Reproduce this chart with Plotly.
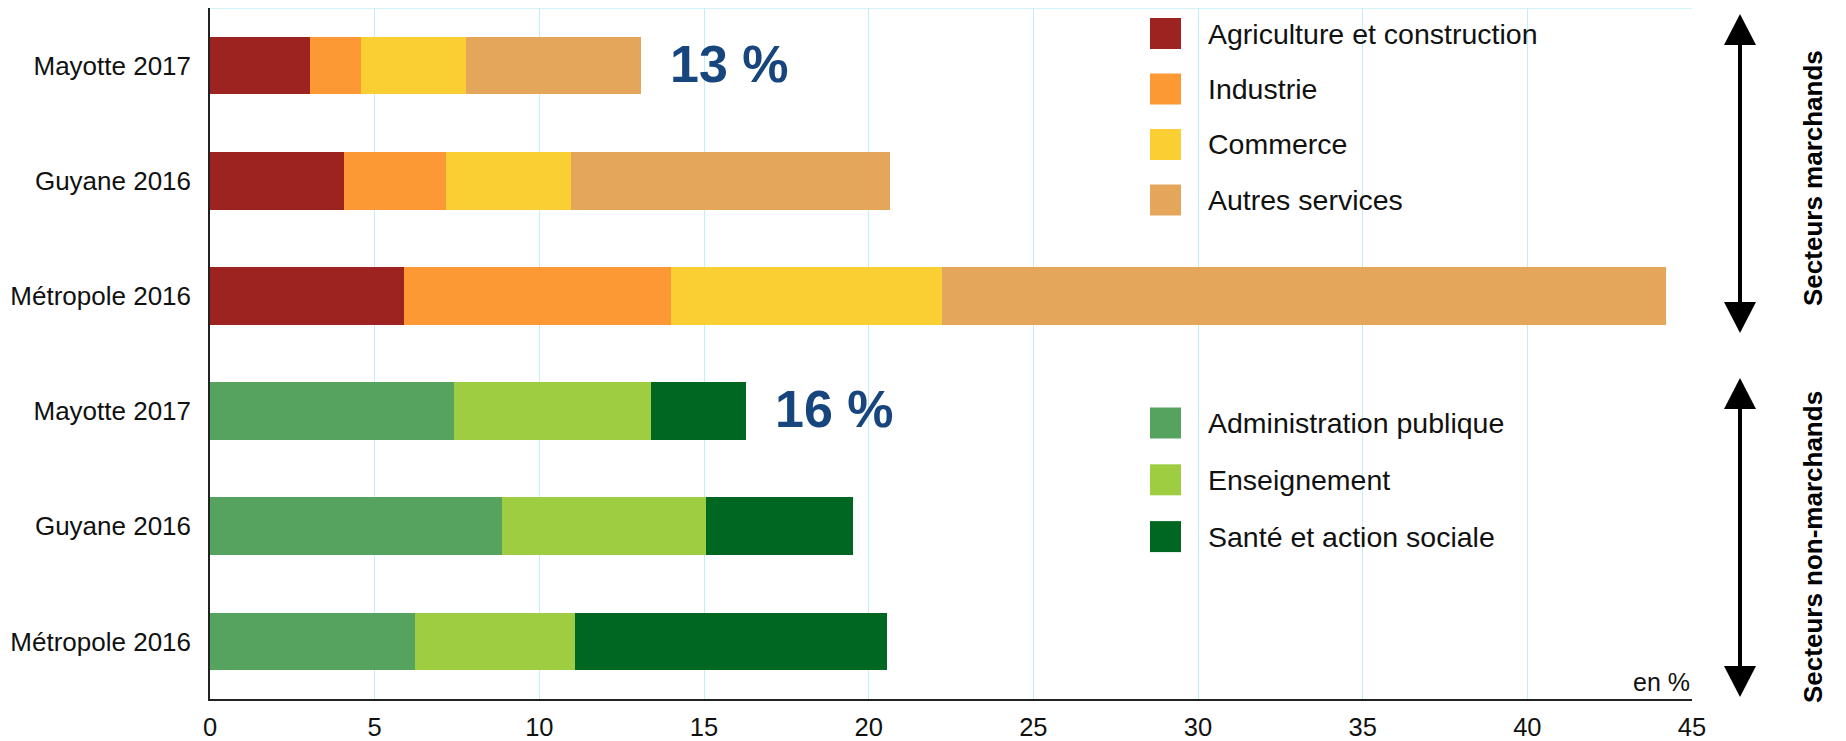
import plotly.graph_objects as go

# ---------------- data ----------------
row_labels = ["Mayotte 2017", "Guyane 2016", "Métropole 2016",
              "Mayotte 2017", "Guyane 2016", "Métropole 2016"]

market_sectors = ["Agriculture et construction", "Industrie", "Commerce", "Autres services"]
market_colors = ["#9c231f", "#fd9934", "#f9cf33", "#e3a65a"]
# rows: Mayotte 2017, Guyane 2016, Métropole 2016
agri = [3.03, 4.06, 5.89]
industrie = [1.55, 3.10, 8.11]
commerce = [3.19, 3.80, 8.24]
autres = [5.32, 9.70, 21.98]

nonmarket_sectors = ["Administration publique", "Enseignement", "Santé et action sociale"]
nonmarket_colors = ["#56a35f", "#9ecd42", "#006723"]
admin = [7.41, 8.87, 6.22]
enseignement = [5.98, 6.19, 4.87]
sante = [2.89, 4.46, 9.46]

total_labels = ["13 %", "16 %"]
group_labels = ["Secteurs marchands", "Secteurs non-marchands"]
x_ticks = [0, 5, 10, 15, 20, 25, 30, 35, 40, 45]
unit_label = "en %"

# ---------------- layout constants ----------------
OFF = 8  # page body margin offset
W, H = 1846 - OFF, 741 - OFF
ML, MR, MT, MB = 210 - OFF, 154, 0, 42
PW, PH = W - ML - MR, H - MT - MB
FONT = "Liberation Sans, Arial, sans-serif"


def px_x(px):
    # px: page x coordinate in reference
    return (px - OFF - ML) / PW


def px_y(py):
    return (H - MB - (py - OFF)) / PH


y_market = [5, 4, 3]
y_nonmarket = [2, 1, 0]

fig = go.Figure()
for name, vals, col in zip(market_sectors, [agri, industrie, commerce, autres], market_colors):
    fig.add_trace(go.Bar(y=y_market, x=vals, name=name, orientation="h",
                         marker=dict(color=col, line=dict(width=0)), width=0.5,
                         showlegend=False))
for name, vals, col in zip(nonmarket_sectors, [admin, enseignement, sante], nonmarket_colors):
    fig.add_trace(go.Bar(y=y_nonmarket, x=vals, name=name, orientation="h",
                         marker=dict(color=col, line=dict(width=0)), width=0.5,
                         showlegend=False))

shapes = []
annotations = []

# top border line (light cyan)
shapes.append(dict(type="line", xref="paper", yref="paper", x0=0, x1=1, y0=1, y1=1,
                   line=dict(color="#c2eef9", width=1.5)))

# totals annotations
market_total = agri[0] + industrie[0] + commerce[0] + autres[0]
nonmarket_total = admin[0] + enseignement[0] + sante[0]
for lab, tot, yy in zip(total_labels, [market_total, nonmarket_total], [y_market[0], y_nonmarket[0]]):
    annotations.append(dict(x=tot + 0.83, y=yy, xref="x", yref="y", text=lab, showarrow=False,
                            xanchor="left", yanchor="middle", yshift=2,
                            font=dict(family=FONT, size=52, color="#17467e", weight="bold")))


# manual legends
def add_legend(names, colors, y_first, step):
    for i, (n, c) in enumerate(zip(names, colors)):
        cy = y_first + i * step
        shapes.append(dict(type="rect", xref="paper", yref="paper",
                           x0=px_x(1150), x1=px_x(1181),
                           y0=px_y(cy - 15.5), y1=px_y(cy + 15.5),
                           fillcolor=c, line=dict(width=0)))
        annotations.append(dict(x=px_x(1206), y=px_y(cy), xref="paper", yref="paper",
                                text=n, showarrow=False, xanchor="left", yanchor="middle",
                                font=dict(family=FONT, size=28.5, color="#111111")))


add_legend(market_sectors, market_colors, 33.5, 55.5)
add_legend(nonmarket_sectors, nonmarket_colors, 423, 56.8)


# double arrows
def add_arrow(y_top, y_bot, xc=1740, head_w=32, head_l=31, lw=4):
    shapes.append(dict(type="line", xref="paper", yref="paper",
                       x0=px_x(xc), x1=px_x(xc), y0=px_y(y_top + head_l - 2), y1=px_y(y_bot - head_l + 2),
                       line=dict(color="black", width=lw)))
    for tip, base in [(y_top, y_top + head_l), (y_bot, y_bot - head_l)]:
        path = "M {} {} L {} {} L {} {} Z".format(
            px_x(xc), px_y(tip), px_x(xc - head_w / 2), px_y(base), px_x(xc + head_w / 2), px_y(base))
        shapes.append(dict(type="path", xref="paper", yref="paper", path=path,
                           fillcolor="black", line=dict(width=0)))


add_arrow(14, 333)
add_arrow(378, 697)

# group labels (rotated)
for lab, cy in zip(group_labels, [178, 547]):
    annotations.append(dict(x=px_x(1813), y=px_y(cy), xref="paper", yref="paper", text=lab,
                            showarrow=False, textangle=-90, xanchor="center", yanchor="middle",
                            font=dict(family=FONT, size=26, color="black", weight="bold")))

# unit label
annotations.append(dict(x=1, y=0, xref="paper", yref="paper", text=unit_label, showarrow=False,
                        xanchor="right", yanchor="bottom", yshift=1,
                        font=dict(family=FONT, size=25, color="#111111")))

fig.update_layout(
    width=W, height=H,
    margin=dict(l=ML, r=MR, t=MT, b=MB, pad=0, autoexpand=False),
    barmode="stack",
    bargap=0.5,
    plot_bgcolor="white", paper_bgcolor="white",
    shapes=shapes, annotations=annotations,
    showlegend=False,
    xaxis=dict(range=[0, 45], tickvals=x_ticks, ticktext=[str(v) for v in x_ticks],
               showgrid=True, gridcolor="#c2eef9", gridwidth=1, automargin=False,
               showline=True, linecolor="#222222", linewidth=1.5,
               ticks="", zeroline=False, ticklabelstandoff=5,
               tickfont=dict(family=FONT, size=25.5, color="#111111")),
    yaxis=dict(range=[-0.5, 5.5], tickvals=y_market + y_nonmarket, ticktext=row_labels,
               showgrid=False, showline=True, linecolor="#222222", linewidth=1.5,
               ticks="", zeroline=False, ticklabelstandoff=12, automargin=False,
               tickfont=dict(family=FONT, size=26, color="#111111")),
)

fig.write_html("out.html")
